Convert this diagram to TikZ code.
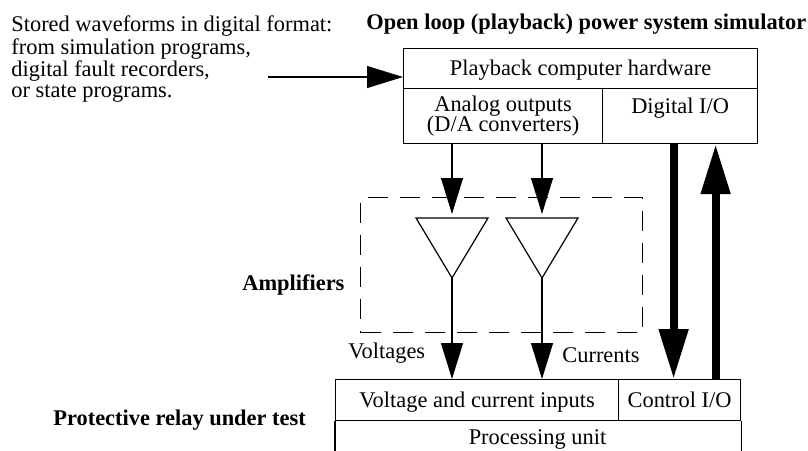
\documentclass[tikz,border=0pt]{standalone}
\usepackage{fontspec}
\setmainfont{Liberation Serif}
\usetikzlibrary{arrows.meta}
\tikzset{
  txt/.style={inner sep=0pt},
  boldtxt/.style={inner sep=0pt,font=\fontsize{11.2}{10.2}\selectfont\bfseries},
  cell/.style={draw,line width=0.6pt,anchor=north west,inner sep=0pt},
  oneline/.style={text height=7pt,text depth=0pt},
  thinarrow/.style={line width=0.6pt,-{Triangle[length=18pt,width=11pt]}},
  fatarrow/.style={line width=4pt,-{Triangle[length=25pt,width=14pt]}}
}
\begin{document}
\begin{tikzpicture}[x=0.5pt,y=-0.5pt,font=\fontsize{11.2}{10.2}\selectfont]
  \useasboundingbox (0,0) rectangle (808,450);
  % source text and title
  \node[txt,anchor=north west,align=left] (src) at (11,15.5)
    {Stored waveforms in digital format:\\from simulation programs,\\digital fault recorders,\\or state programs.};
  \node[boldtxt,anchor=base west] (title) at (366,29) {Open loop (playback) power system simulator};
  % playback computer
  \node[cell,oneline,minimum width=177pt,minimum height=20pt] (hw) at (403,48) {Playback computer hardware};
  \node[cell,align=center,minimum width=99.5pt,minimum height=27.5pt] (ana) at (403,88) {Analog outputs\\(D/A converters)};
  \node[cell,text height=7pt,text depth=9.5pt,minimum width=77.5pt,minimum height=27.5pt] (dio) at (602,88) {Digital I/O};
  \coordinate (in) at (268,77);
  \draw[thinarrow] (in) -- (in -| hw.west);
  % amplifiers
  \node[cell,dash pattern=on 10pt off 6pt,minimum width=141pt,minimum height=67.5pt] (ampbox) at (360,197) {};
  \node[boldtxt,anchor=base west] (amplbl) at (242,290) {Amplifiers};
  % relay under test
  \node[cell,oneline,minimum width=141.5pt,minimum height=20.5pt] (vci) at (335,379) {Voltage and current inputs};
  \node[cell,oneline,minimum width=61pt,minimum height=20.5pt] (cio) at (618,379) {Control I/O};
  \node[txt,anchor=base] (proc) at (537.5,444) {Processing unit};
  \draw[line width=0.6pt] (vci.south west) -- ++(0,32);
  \draw[line width=0.6pt] (cio.south east) -- ++(0,32);
  \node[boldtxt,anchor=base west] (relaylbl) at (53,425) {Protective relay under test};
  \foreach \n/\x in {1/452,2/542}{
    \draw[line width=0.6pt] (\x-36,218) -- (\x+36,218) -- (\x,278) -- cycle;
    \coordinate (amp\n in) at (\x,214);
    \coordinate (amp\n out) at (\x,278);
    \draw[thinarrow] (amp\n in |- ana.south) -- (amp\n in);
    \draw[thinarrow] (amp\n out) -- (amp\n out |- vci.north);
  }
  \node[txt,anchor=base west] (vlbl) at (348,358) {Voltages};
  \node[txt,anchor=base west] (clbl) at (562,362) {Currents};
  % digital I/O lines
  \draw[fatarrow] ([xshift=-3.25pt]dio.south) -- ([xshift=-3.25pt]dio.south |- cio.north);
  \draw[fatarrow] ([xshift=17.75pt]dio.south |- cio.north) -- ([xshift=17.75pt]dio.south);
\end{tikzpicture}
\end{document}
